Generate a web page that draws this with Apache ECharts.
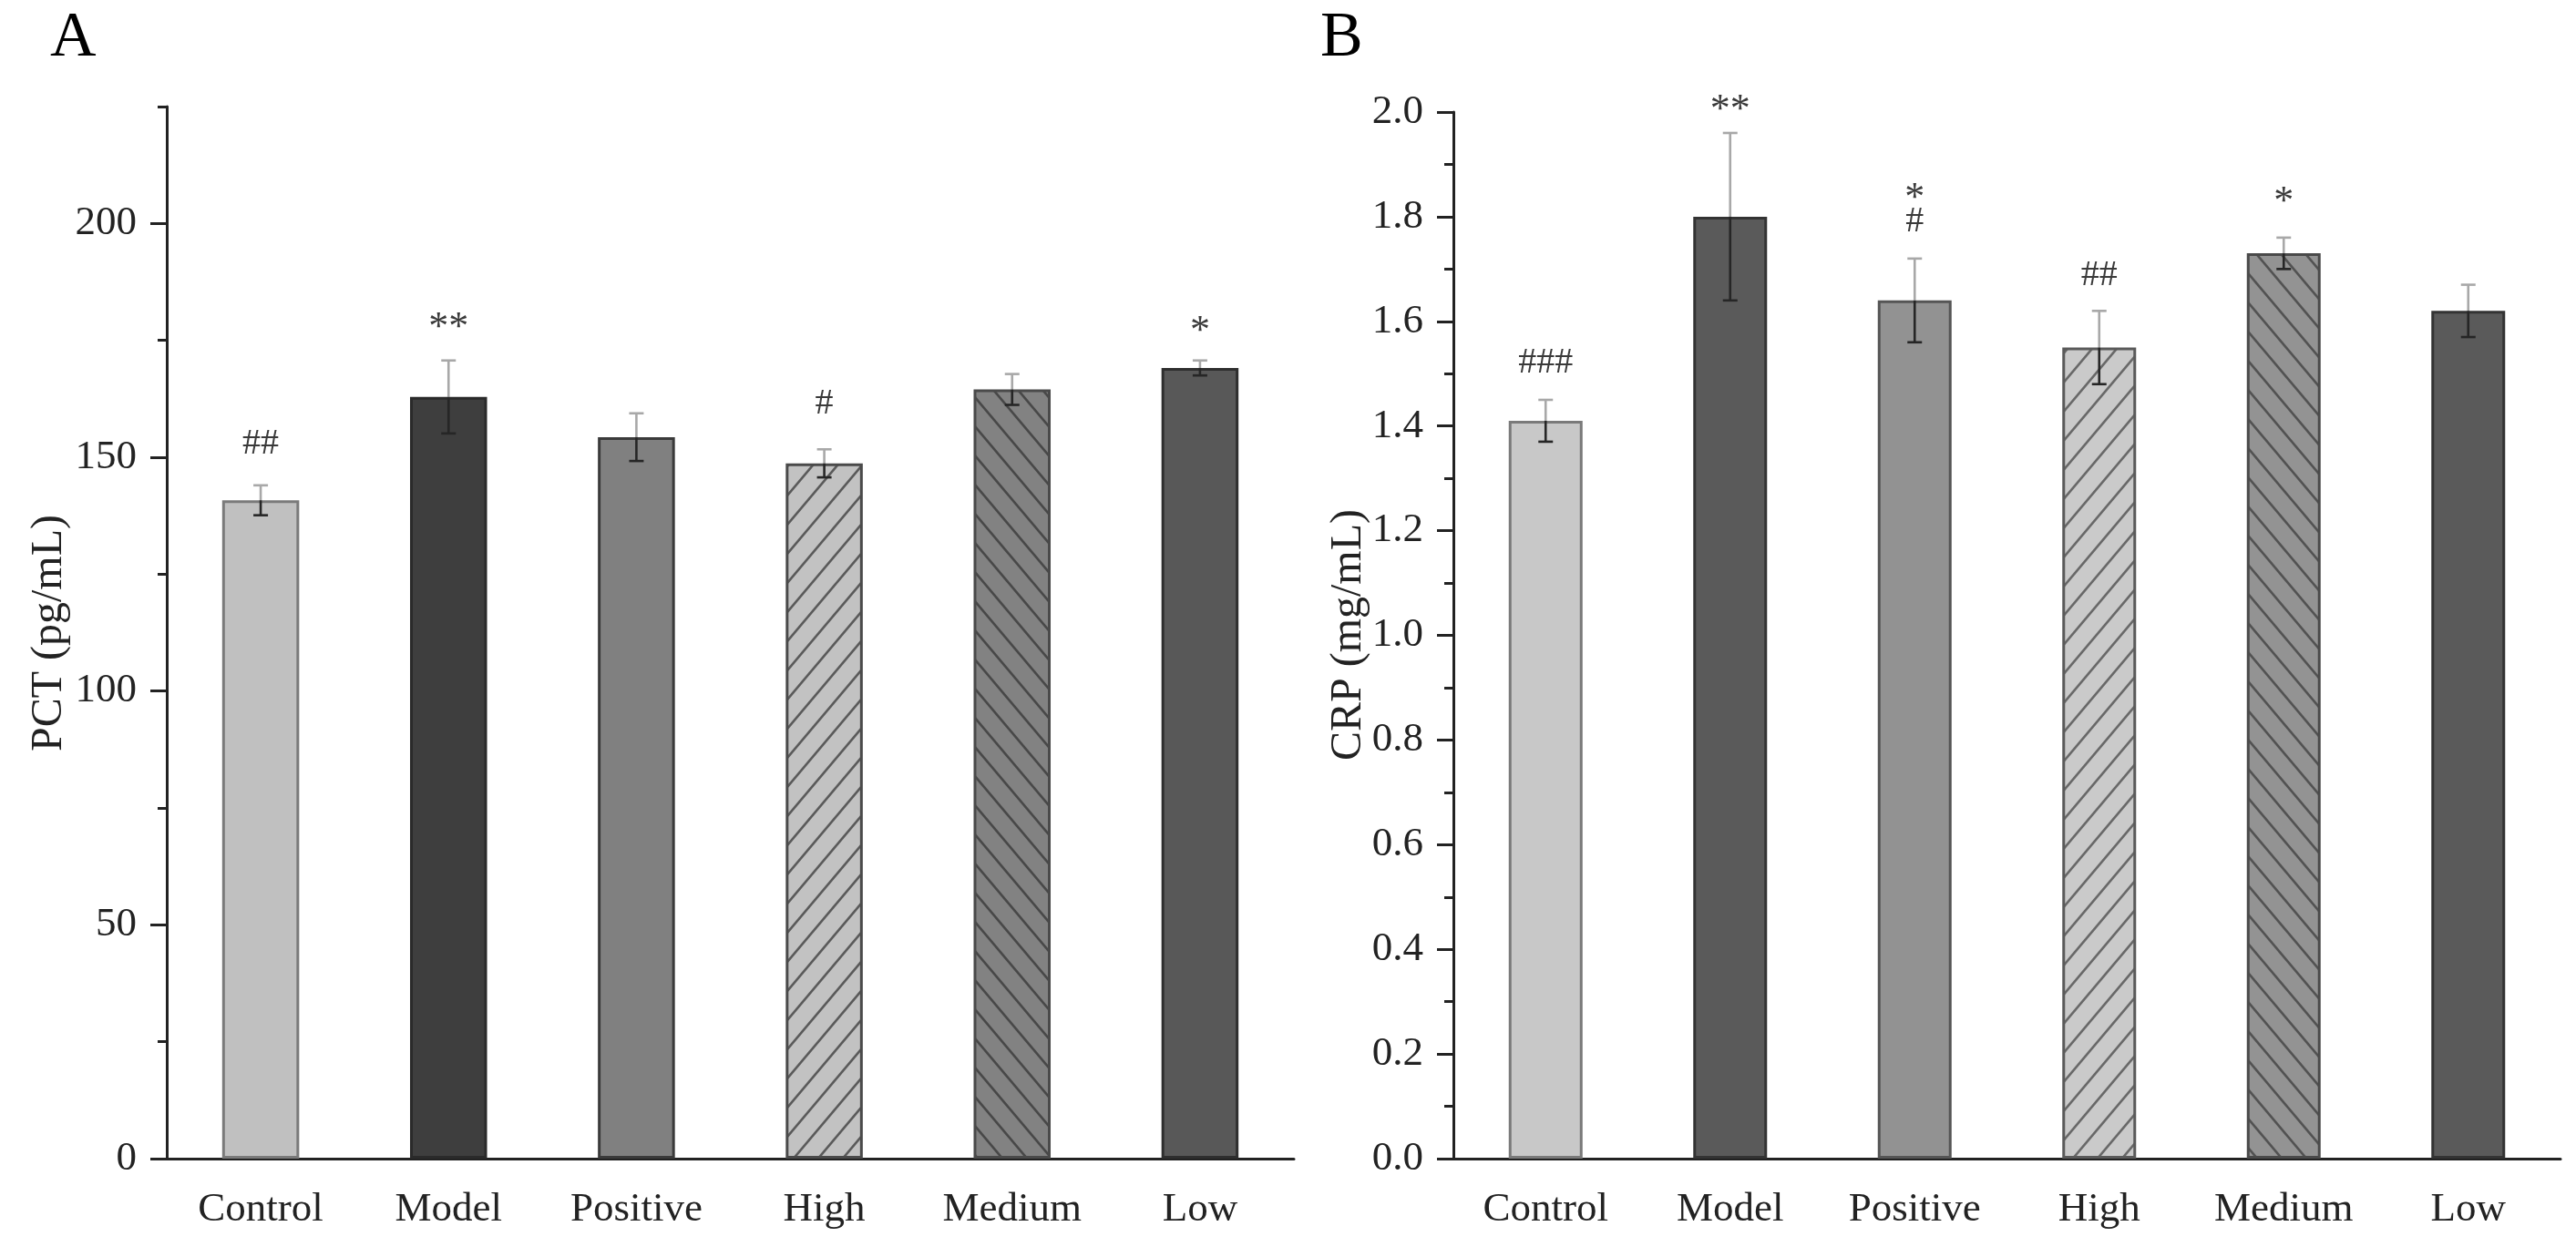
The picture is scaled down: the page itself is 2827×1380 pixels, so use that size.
<!DOCTYPE html>
<html><head><meta charset="utf-8">
<script src="https://cdn.jsdelivr.net/npm/echarts@6/dist/echarts.min.js"></script>
<style>html,body{margin:0;padding:0;background:#fff;}#c{width:2827px;height:1380px;}</style>
</head><body><div id="c"></div>
<script>
// ---------- data ----------
const categories = ['Control', 'Model', 'Positive', 'High', 'Medium', 'Low'];
const pctMean = [140.8, 162.9, 154.3, 148.7, 164.5, 169.1];
const pctErr  = [3.2, 7.8, 5.1, 3.0, 3.3, 1.6];
const pctMarkCat  = [0, 1, 3, 5];
const pctMarkText = ['##', '**', '#', '*'];
const pctMarkY    = [152.8, 179.4, 161.4, 178.5];
const crpMean = [1.41, 1.80, 1.64, 1.55, 1.73, 1.62];
const crpErr  = [0.04, 0.16, 0.08, 0.07, 0.03, 0.05];
const crpMarkCat  = [0, 1, 2, 2, 3, 4];
const crpMarkText = ['###', '**', '*', '#', '##', '*'];
const crpMarkY    = [1.52, 2.018, 1.85, 1.79, 1.688, 1.842];
const pctTicks = [0, 50, 100, 150, 200];
const crpTicks = [0.0, 0.2, 0.4, 0.6, 0.8, 1.0, 1.2, 1.4, 1.6, 1.8, 2.0];

// ---------- styles ----------
const FONT = '"Liberation Serif", "Times New Roman", serif';
function hatch(bg, fg, dir) {
  const w = 27, h = 32, c = document.createElement('canvas');
  c.width = w; c.height = h;
  const g = c.getContext('2d');
  g.fillStyle = bg; g.fillRect(0, 0, w, h);
  g.strokeStyle = fg; g.lineWidth = 2.6;
  for (let k = -w; k <= w; k += w) {
    g.beginPath();
    if (dir === '/') { g.moveTo(k - 2, h + 2.4); g.lineTo(k + w + 2, -2.4); }
    else { g.moveTo(k - 2, -2.4); g.lineTo(k + w + 2, h + 2.4); }
    g.stroke();
  }
  return { image: c, repeat: 'repeat' };
}
const pctFill = ['#c0c0c0', '#3e3e3e', '#808080', hatch('#c2c2c2', '#5a5a5a', '/'), hatch('#828282', '#484848', '\\'), '#585858'];
const pctBorder = ['#7a7a7a', '#2a2a2a', '#3a3a3a', '#4a4a4a', '#4a4a4a', '#2e2e2e'];
const crpFill = ['#c8c8c8', '#5a5a5a', '#929292', hatch('#cacaca', '#686868', '/'), hatch('#939393', '#525252', '\\'), '#5a5a5a'];
const crpBorder = ['#7a7a7a', '#333333', '#555555', '#5a5a5a', '#4a4a4a', '#333333'];

function errRender(params, api) {
  const i = api.value(0), m = api.value(1), e = api.value(2);
  const pT = api.coord([i, m + e]), pM = api.coord([i, m]), pB = api.coord([i, m - e]);
  const x = pM[0], hw = 8;
  const light = { stroke: '#a8a8a8', lineWidth: 2.6 }, dark = { stroke: '#262626', lineWidth: 2.6 };
  return { type: 'group', children: [
    { type: 'line', shape: { x1: x, y1: pT[1], x2: x, y2: pM[1] }, style: light },
    { type: 'line', shape: { x1: x - hw, y1: pT[1], x2: x + hw, y2: pT[1] }, style: light },
    { type: 'line', shape: { x1: x, y1: pM[1], x2: x, y2: pB[1] }, style: dark },
    { type: 'line', shape: { x1: x - hw, y1: pB[1], x2: x + hw, y2: pB[1] }, style: dark }
  ]};
}
function markRender(texts) {
  return function (params, api) {
    const p = api.coord([api.value(0), api.value(1)]);
    const t = texts[params.dataIndex];
    const star = t.indexOf('*') >= 0;
    return { type: 'text', x: p[0], y: p[1] + (star ? 9 : 0), style: {
      text: t, font: (star ? '44px ' : '40px ') + FONT, fill: '#3a3a3a',
      textAlign: 'center', textVerticalAlign: 'middle' } };
  };
}

const axisLineStyle = { color: '#222', width: 3 };
const labelStyle = { fontFamily: FONT, fontSize: 45, color: '#222' };

const gridA = { left: 183, top: 117, width: 1237, bottom: 108 };
const gridAhelp = { left: 183, top: 1272 - 200 * (1155 / 225), width: 1237, bottom: 108 };
const gridB = { left: 1595, top: 123, width: 1215, bottom: 108 };

const option = {
  backgroundColor: '#fff',
  animation: false,
  grid: [gridA, gridAhelp, gridB, gridB],
  xAxis: [
    { gridIndex: 0, type: 'category', data: categories,
      axisLine: { lineStyle: axisLineStyle },
      axisTick: { alignWithLabel: true, length: 20, lineStyle: axisLineStyle },
      axisLabel: Object.assign({ margin: 34 }, labelStyle) },
    { gridIndex: 1, type: 'category', data: categories,
      axisLine: { show: false }, axisLabel: { show: false },
      axisTick: { length: 10, lineStyle: axisLineStyle } },
    { gridIndex: 2, type: 'category', data: categories,
      axisLine: { lineStyle: axisLineStyle },
      axisTick: { alignWithLabel: true, length: 20, lineStyle: axisLineStyle },
      axisLabel: Object.assign({ margin: 34 }, labelStyle) },
    { gridIndex: 3, type: 'category', data: categories,
      axisLine: { show: false }, axisLabel: { show: false },
      axisTick: { length: 10, lineStyle: axisLineStyle } }
  ],
  yAxis: [
    { gridIndex: 0, type: 'value', min: 0, max: 225, interval: 25,
      axisLine: { show: true, lineStyle: axisLineStyle },
      axisTick: { show: true, length: 10, lineStyle: axisLineStyle },
      splitLine: { show: false },
      axisLabel: Object.assign({ margin: 33,
        formatter: v => (pctTicks.indexOf(v) >= 0 ? String(v) : '') }, labelStyle) },
    { gridIndex: 1, type: 'value', min: 0, max: 200, interval: 50,
      axisLine: { show: false }, axisLabel: { show: false }, splitLine: { show: false },
      axisTick: { show: true, length: 18, lineStyle: axisLineStyle } },
    { gridIndex: 2, type: 'value', min: 0, max: 2, interval: 0.2,
      axisLine: { show: true, lineStyle: axisLineStyle },
      axisTick: { show: true, length: 18, lineStyle: axisLineStyle },
      minorTick: { show: true, splitNumber: 2, length: 10, lineStyle: axisLineStyle },
      splitLine: { show: false }, minorSplitLine: { show: false },
      axisLabel: Object.assign({ margin: 33,
        formatter: v => crpTicks.find(t => Math.abs(t - v) < 1e-6) !== undefined ? v.toFixed(1) : '' }, labelStyle) },
    { gridIndex: 3, type: 'value', min: 0, max: 2, show: false }
  ],
  series: [
    { type: 'bar', xAxisIndex: 0, yAxisIndex: 0, barWidth: '41%', z: 2,
      data: pctMean.map((v, i) => ({ value: v,
        itemStyle: { color: pctFill[i], borderColor: pctBorder[i], borderWidth: 3 } })) },
    { type: 'custom', xAxisIndex: 0, yAxisIndex: 0, z: 5, renderItem: errRender,
      data: pctMean.map((v, i) => [i, v, pctErr[i]]) },
    { type: 'custom', xAxisIndex: 0, yAxisIndex: 0, z: 6, renderItem: markRender(pctMarkText),
      data: pctMarkCat.map((c, k) => [c, pctMarkY[k]]) },
    { type: 'bar', xAxisIndex: 2, yAxisIndex: 2, barWidth: '40%', z: 2,
      data: crpMean.map((v, i) => ({ value: v,
        itemStyle: { color: crpFill[i], borderColor: crpBorder[i], borderWidth: 3 } })) },
    { type: 'custom', xAxisIndex: 2, yAxisIndex: 2, z: 5, renderItem: errRender,
      data: crpMean.map((v, i) => [i, v, crpErr[i]]) },
    { type: 'custom', xAxisIndex: 2, yAxisIndex: 2, z: 6, renderItem: markRender(crpMarkText),
      data: crpMarkCat.map((c, k) => [c, crpMarkY[k]]) }
  ],
  graphic: [
    { type: 'text', left: 55, top: 8, style: { text: 'A', font: '70px ' + FONT, fill: '#000' } },
    { type: 'text', left: 1449, top: 8, style: { text: 'B', font: '70px ' + FONT, fill: '#000' } },
    { type: 'text', x: 54, y: 695, rotation: Math.PI / 2,
      style: { text: 'PCT (pg/mL)', font: '48px ' + FONT, fill: '#222', textAlign: 'center', textVerticalAlign: 'middle' } },
    { type: 'text', x: 1480, y: 697, rotation: Math.PI / 2,
      style: { text: 'CRP (mg/mL)', font: '48px ' + FONT, fill: '#222', textAlign: 'center', textVerticalAlign: 'middle' } }
  ]
};
const chart = echarts.init(document.getElementById('c'), null, { renderer: 'canvas' });
chart.setOption(option);
</script></body></html>
